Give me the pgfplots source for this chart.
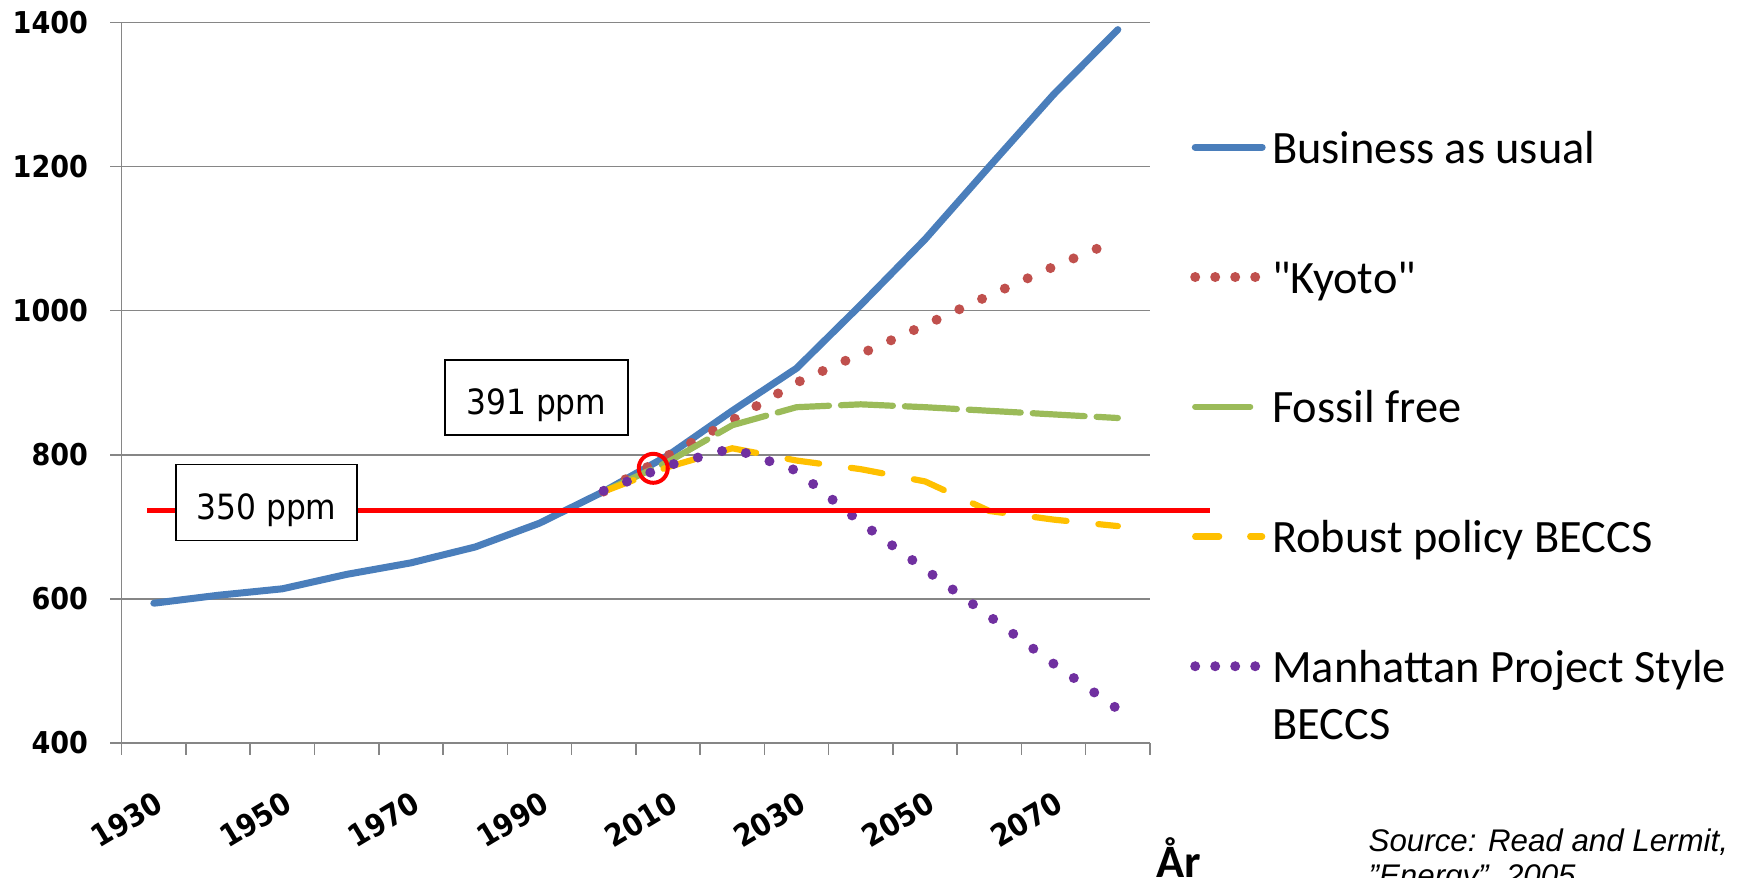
\documentclass[border=0pt]{standalone}
\usepackage{fontspec}
\usepackage{pgfplots}
\pgfplotsset{compat=1.18}
\newfontfamily\boxfont{DejaVu Sans}[FakeStretch=0.9]
\newfontfamily\tickfont{DejaVu Sans Bold}[FakeStretch=0.9]
\newfontfamily\carlito{Carlito}[Ligatures=TeXOff]
\newfontfamily\libsans{Liberation Sans}
\definecolor{bau}{RGB}{74,126,187}
\definecolor{kyoto}{RGB}{192,80,77}
\definecolor{fossil}{RGB}{155,187,89}
\definecolor{robust}{RGB}{255,192,0}
\definecolor{manh}{RGB}{112,48,160}
\definecolor{gridgray}{RGB}{134,134,134}
\pgfplotsset{
  legsolid/.style={legend image code/.code={\draw[##1] (0mm,4.55pt) -- (6.7mm,4.55pt);}},
  legdot/.style={legend image code/.code={\draw[##1, dash pattern=on 0pt off 2mm] (0mm,4.55pt) -- (6.7mm,4.55pt);}},
  leglong/.style={legend image code/.code={\draw[##1, dash pattern=on 5.5mm off 1.4mm] (0mm,4.55pt) -- (6.7mm,4.55pt);}},
  legdash/.style={legend image code/.code={\draw[##1, dash pattern=on 2.4mm off 3.1mm] (0mm,4.55pt) -- (6.7mm,4.55pt);}},
}
\begin{document}
\begin{tikzpicture}
\useasboundingbox (0,0) rectangle (174.6mm,87.7mm);
\clip (0,0) rectangle (174.6mm,87.7mm);
\begin{axis}[
  at={(12.17mm,13.4mm)}, anchor=south west,
  scale only axis, width=102.83mm, height=72.06mm,
  xmin=-0.5, xmax=15.5, ymin=400, ymax=1400,
  clip=false,
  axis x line=bottom, axis y line=left,
  axis line style={-, draw=gridgray, line width=0.15mm},
  xtick={0,2,...,14},
  xticklabels={1930,1950,1970,1990,2010,2030,2050,2070},
  minor xtick={-0.5,0.5,...,15.5},
  ytick={400,600,...,1400},
  yticklabels={400,600,800,1000,1200,1400},
  minor ytick={400,600,...,1400},
  major tick length=0pt, minor tick length=1.15mm,
  tick align=outside,
  tick style={draw=gridgray, line width=0.15mm},
  ymajorgrids, grid style={draw=gridgray, line width=0.15mm},
  yticklabel style={font=\tickfont\fontsize{8.55}{10}\selectfont, anchor=east, inner sep=0pt, xshift=-3.3mm},
  xticklabel style={font=\tickfont\fontsize{8.7}{10}\selectfont, inner sep=0pt, xshift=0.0mm, yshift=-4.6mm, rotate=31, anchor=north east},
  legend style={at={(axis description cs:1.0384,0.8615)}, anchor=north west, draw=none, fill=none, inner sep=0pt,
    row sep=7.21mm, column sep=0.5mm,
    font=\carlito\fontsize{13.2}{16.4}\selectfont,
    nodes={inner sep=0pt, text height=11.48pt, text depth=4.92pt},
    cells={anchor=base west}},
]
\addplot[bau, line width=0.7mm, line join=round, line cap=round, legsolid]
  coordinates {(0,594) (1,605) (2,614) (3,634) (4,650) (5,672) (6,705) (7,749) (8,799) (9,861) (10,920) (11,1008) (12,1099) (13,1200) (14,1300) (15,1390)};
\addlegendentry{Business as usual}
\addplot[kyoto, line width=1.0mm, line cap=round, dash pattern=on 0pt off 2.5mm, legdot]
  coordinates {(7,749) (8,799) (9,848) (10,900) (11,940) (12,980) (13,1021) (14,1061) (15,1098)};
\addlegendentry{"Kyoto"}
\addplot[fossil, line width=0.62mm, line cap=round, dash pattern=on 5.2mm off 1.2mm, leglong]
  coordinates {(7,749) (8,790) (9,841) (10,866) (11,870) (12,866) (13,861) (14,856) (15,851)};
\addlegendentry{Fossil free}
\addplot[robust, line width=0.62mm, line cap=round, dash pattern=on 3.2mm off 3.2mm, legdash]
  coordinates {(7,749) (8,783) (9,809) (10,792) (11,780) (12,763) (13,722) (14,710) (15,701)};
\addlegendentry{Robust policy BECCS}
\addplot[manh, line width=1.0mm, line cap=round, dash pattern=on 0pt off 2.5mm, legdot]
  coordinates {(7,750) (8,785) (9,809) (10,778) (11,706) (12,641) (13,576) (14,510) (15,447)};
\addlegendentry{\vtop{\hbox{Manhattan Project Style}\hbox{BECCS}}}
% 350 ppm reference line
\addplot[red, line width=0.45mm, forget plot] coordinates {(-0.106,723) (16.433,723)};
% annotations
\node[draw=red, line width=0.4mm, circle, minimum size=2.9mm, inner sep=0pt] at (axis cs:7.771,781.2) {};
\node[draw=black, line width=0.18mm, fill=white, minimum width=18.1mm, minimum height=7.6mm, inner sep=0pt] (b350) at (axis cs:1.753,733.7) {};
\node[font=\boxfont\fontsize{9.9}{11}\selectfont, anchor=base, inner sep=0pt] at ([yshift=-1.7mm]b350.center) {350 ppm};
\node[draw=black, line width=0.18mm, fill=white, minimum width=18.3mm, minimum height=7.5mm, inner sep=0pt] (b391) at (axis cs:5.953,879.5) {};
\node[font=\boxfont\fontsize{9.9}{11}\selectfont, anchor=base, inner sep=0pt] at ([yshift=-1.68mm]b391.center) {391 ppm};
\end{axis}
\node[anchor=base west, inner sep=0pt, font=\carlito\bfseries\fontsize{13.2}{16}\selectfont] at (115.6mm,0mm) {År};
\node[anchor=base west, inner sep=0pt, font=\libsans\itshape\fontsize{8.9}{11}\selectfont] at (136.8mm,2.6mm) {Source: Read and Lermit,};
\node[anchor=base west, inner sep=0pt, font=\libsans\itshape\fontsize{8.9}{11}\selectfont] at (136.8mm,-0.95mm) {”Energy”, 2005};
\end{tikzpicture}
\end{document}
